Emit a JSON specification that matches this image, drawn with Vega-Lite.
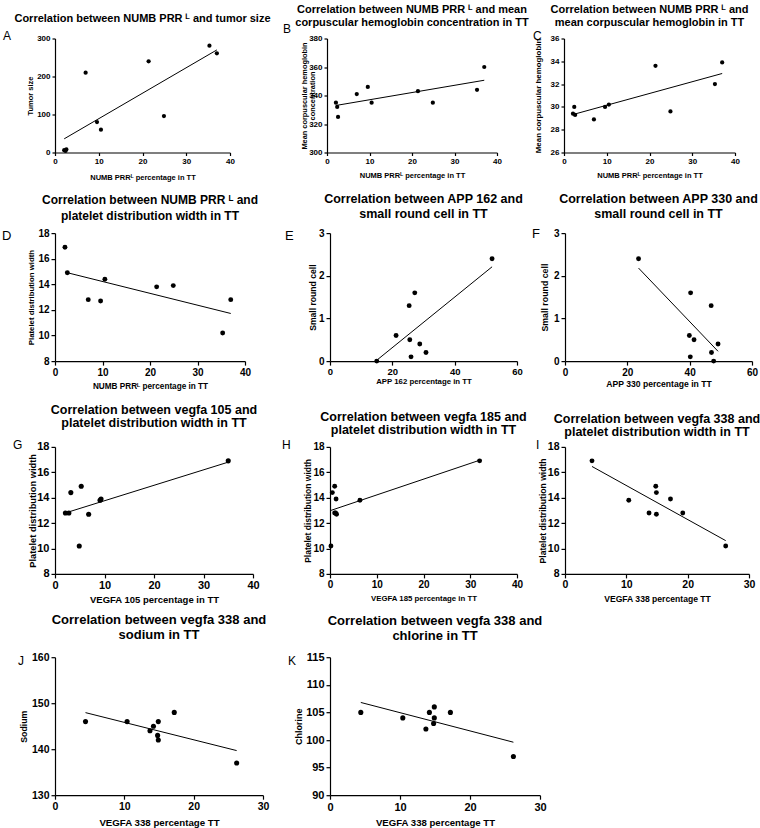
{
  "$schema": "https://vega.github.io/schema/vega-lite/v6.json",
  "autosize": {"type": "pad"},
  "padding": {"left": 2, "top": 3.5, "right": 4, "bottom": 2},
  "background": "white",
  "config": {
    "view": {"stroke": null},
    "font": "Liberation Sans",
    "title": {"font": "Liberation Sans", "fontWeight": "bold", "color": "black", "anchor": "middle", "frame": "group"},
    "axis": {"domainColor": "black", "domainWidth": 1.2, "tickColor": "black", "tickWidth": 1.2, "tickSize": 3, "labelColor": "black", "labelFontWeight": "bold", "labelFont": "Liberation Sans", "titleFont": "Liberation Sans", "titleColor": "black", "titleFontWeight": "bold", "grid": false, "labelPadding": 2, "labelFlush": false, "labelOverlap": false, "labelBound": false},
    "text": {"font": "Liberation Sans", "color": "black"}
  },
  "vconcat": [
    {
      "vconcat": [
        {
          "hconcat": [
            {
              "width": 175, "height": 114,
              "title": {"text": "Correlation between NUMB PRR ᴸ and tumor size", "fontSize": 11, "lineHeight": 13, "offset": 6},
              "layer": [
                {"data": {"values": [{"x": 2.1, "y": 6}, {"x": 2.4, "y": 4}, {"x": 2.6, "y": 8}, {"x": 7.0, "y": 210}, {"x": 9.6, "y": 80}, {"x": 10.5, "y": 60}, {"x": 21.4, "y": 240}, {"x": 24.9, "y": 96}, {"x": 35.3, "y": 281}, {"x": 37.0, "y": 261}]},
                 "mark": {"type": "point", "filled": true, "color": "black", "opacity": 1, "size": 18},
                 "encoding": {
                   "x": {"field": "x", "type": "quantitative", "scale": {"domain": [0, 40], "nice": false, "zero": false}, "axis": {"title": "NUMB PRRᴸ percentage in TT", "values": [0, 10, 20, 30, 40], "format": "d", "tickCount": 20, "labelOverlap": false, "labelFontSize": 8, "titleFontSize": 7.5, "titleY": 27, "titleBaseline": "alphabetic"}},
                   "y": {"field": "y", "type": "quantitative", "scale": {"domain": [0, 300], "nice": false, "zero": false}, "axis": {"title": "Tumor size", "values": [0, 100, 200, 300], "format": "d", "tickCount": 20, "labelOverlap": false, "labelFontSize": 8, "titleFontSize": 7.5, "titleX": -25, "titleY": 57, "titleAngle": -90, "titleBaseline": "middle", "titleAlign": "center"}}
                 }},
                {"data": {"values": [{"x": 2.1, "y": 36}, {"x": 37.0, "y": 270}]},
                 "mark": {"type": "line", "color": "black", "strokeWidth": 1},
                 "encoding": {"x": {"field": "x", "type": "quantitative"}, "y": {"field": "y", "type": "quantitative"}}},
                {"data": {"values": [{"panel": "A"}]},
                 "mark": {"type": "text", "align": "left", "baseline": "alphabetic", "fontSize": 12, "dx": -52, "dy": 1},
                 "encoding": {"x": {"datum": 0}, "y": {"datum": 300}, "text": {"field": "panel"}}}
              ]
            },
            {
              "hconcat": [
                {
                  "width": 170, "height": 114,
                  "title": {"text": ["Correlation between NUMB PRR ᴸ and mean", "corpuscular hemoglobin concentration  in TT"], "fontSize": 11, "lineHeight": 13, "offset": -5.3},
                  "layer": [
                    {"data": {"values": [{"x": 2.1, "y": 335}, {"x": 2.4, "y": 332}, {"x": 2.6, "y": 325}, {"x": 7.0, "y": 341}, {"x": 9.6, "y": 346}, {"x": 10.5, "y": 335}, {"x": 21.4, "y": 343}, {"x": 24.9, "y": 335}, {"x": 35.3, "y": 344}, {"x": 37.0, "y": 360}]},
                     "mark": {"type": "point", "filled": true, "color": "black", "opacity": 1, "size": 18},
                     "encoding": {
                       "x": {"field": "x", "type": "quantitative", "scale": {"domain": [0, 40], "nice": false, "zero": false}, "axis": {"title": "NUMB PRRᴸ percentage in TT", "values": [0, 10, 20, 30, 40], "format": "d", "tickCount": 20, "labelOverlap": false, "labelFontSize": 8, "titleFontSize": 7.5, "titleY": 25, "titleBaseline": "alphabetic"}},
                       "y": {"field": "y", "type": "quantitative", "scale": {"domain": [300, 380], "nice": false, "zero": false}, "axis": {"title": ["Mean corpuscular hemoglobin", "concentration"], "values": [300, 320, 340, 360, 380], "format": "d", "tickCount": 20, "labelOverlap": false, "labelFontSize": 8, "titleFontSize": 7.4, "titleLineHeight": 8, "titleX": -23, "titleY": 57, "titleAngle": -90, "titleBaseline": "middle", "titleAlign": "center"}}
                     }},
                    {"data": {"values": [{"x": 2.1, "y": 333}, {"x": 37.0, "y": 350.7}]},
                     "mark": {"type": "line", "color": "black", "strokeWidth": 1},
                     "encoding": {"x": {"field": "x", "type": "quantitative"}, "y": {"field": "y", "type": "quantitative"}}},
                    {"data": {"values": [{"panel": "B"}]},
                     "mark": {"type": "text", "align": "left", "baseline": "alphabetic", "fontSize": 12, "dx": -44, "dy": -6},
                     "encoding": {"x": {"datum": 0}, "y": {"datum": 380}, "text": {"field": "panel"}}}
                  ]
                },
                {
                  "width": 171, "height": 114,
                  "title": {"text": ["Correlation between NUMB PRR ᴸ and", "mean corpuscular hemoglobin in TT"], "fontSize": 11, "lineHeight": 13, "offset": 1.7},
                  "layer": [
                    {"data": {"values": [{"x": 2.1, "y": 29.4}, {"x": 2.4, "y": 30.0}, {"x": 2.6, "y": 29.3}, {"x": 7.0, "y": 28.9}, {"x": 9.6, "y": 30.0}, {"x": 10.5, "y": 30.2}, {"x": 21.4, "y": 33.6}, {"x": 24.9, "y": 29.6}, {"x": 35.3, "y": 32.0}, {"x": 37.0, "y": 33.9}]},
                     "mark": {"type": "point", "filled": true, "color": "black", "opacity": 1, "size": 18},
                     "encoding": {
                       "x": {"field": "x", "type": "quantitative", "scale": {"domain": [0, 40], "nice": false, "zero": false}, "axis": {"title": "NUMB PRRᴸ percentage in TT", "values": [0, 10, 20, 30, 40], "format": "d", "tickCount": 20, "labelOverlap": false, "labelFontSize": 8, "titleFontSize": 7.5, "titleY": 25, "titleBaseline": "alphabetic"}},
                       "y": {"field": "y", "type": "quantitative", "scale": {"domain": [26, 36], "nice": false, "zero": false}, "axis": {"title": "Mean corpuscular hemoglobin", "values": [26, 28, 30, 32, 34, 36], "format": "d", "tickCount": 20, "labelOverlap": false, "labelFontSize": 8, "titleFontSize": 7.9, "titleX": -26, "titleY": 57, "titleAngle": -90, "titleBaseline": "middle", "titleAlign": "center"}}
                     }},
                    {"data": {"values": [{"x": 2.1, "y": 29.33}, {"x": 37.0, "y": 32.93}]},
                     "mark": {"type": "line", "color": "black", "strokeWidth": 1},
                     "encoding": {"x": {"field": "x", "type": "quantitative"}, "y": {"field": "y", "type": "quantitative"}}},
                    {"data": {"values": [{"panel": "C"}]},
                     "mark": {"type": "text", "align": "left", "baseline": "alphabetic", "fontSize": 12, "dx": -31, "dy": 1},
                     "encoding": {"x": {"datum": 0}, "y": {"datum": 36}, "text": {"field": "panel"}}}
                  ]
                }
              ],
              "spacing": 67, "bounds": "flush"
            }
          ],
          "spacing": 97, "bounds": "flush"
        },
        {
          "hconcat": [
            {
              "width": 190, "height": 128,
              "title": {"text": ["Correlation between NUMB PRR ᴸ and", "platelet distribution width  in TT"], "fontSize": 12, "lineHeight": 15.5, "offset": 5.4},
              "layer": [
                {"data": {"values": [{"x": 2.1, "y": 16.9}, {"x": 2.6, "y": 14.9}, {"x": 7.0, "y": 12.8}, {"x": 9.6, "y": 12.7}, {"x": 10.5, "y": 14.4}, {"x": 21.4, "y": 13.8}, {"x": 24.9, "y": 13.9}, {"x": 35.3, "y": 10.2}, {"x": 37.0, "y": 12.8}]},
                 "mark": {"type": "point", "filled": true, "color": "black", "opacity": 1, "size": 24},
                 "encoding": {
                   "x": {"field": "x", "type": "quantitative", "scale": {"domain": [0, 40], "nice": false, "zero": false}, "axis": {"title": "NUMB PRRᴸ percentage in TT", "values": [0, 10, 20, 30, 40], "format": "d", "tickCount": 20, "labelOverlap": false, "labelFontSize": 10, "titleFontSize": 8.2, "tickSize": 4, "titleY": 27, "titleBaseline": "alphabetic"}},
                   "y": {"field": "y", "type": "quantitative", "scale": {"domain": [8, 18], "nice": false, "zero": false}, "axis": {"title": "Platelet distribution width", "values": [8, 10, 12, 14, 16, 18], "format": "d", "tickCount": 20, "labelOverlap": false, "labelFontSize": 10, "titleFontSize": 7.8, "tickSize": 4, "titleX": -24, "titleY": 64, "titleAngle": -90, "titleBaseline": "middle", "titleAlign": "center"}}
                 }},
                {"data": {"values": [{"x": 2.1, "y": 14.95}, {"x": 37.0, "y": 11.72}]},
                 "mark": {"type": "line", "color": "black", "strokeWidth": 1},
                 "encoding": {"x": {"field": "x", "type": "quantitative"}, "y": {"field": "y", "type": "quantitative"}}},
                {"data": {"values": [{"panel": "D"}]},
                 "mark": {"type": "text", "align": "left", "baseline": "alphabetic", "fontSize": 13, "dx": -53, "dy": 7},
                 "encoding": {"x": {"datum": 0}, "y": {"datum": 18}, "text": {"field": "panel"}}}
              ]
            },
            {
              "hconcat": [
                {
                  "width": 187, "height": 128,
                  "title": {"text": ["Correlation between APP 162 and", "small round cell in TT"], "fontSize": 12.5, "lineHeight": 15, "offset": 7.4},
                  "layer": [
                    {"data": {"values": [{"x": 15.0, "y": 0}, {"x": 21.2, "y": 0.6}, {"x": 25.4, "y": 1.3}, {"x": 25.6, "y": 0.5}, {"x": 26.0, "y": 0.1}, {"x": 27.2, "y": 1.6}, {"x": 28.8, "y": 0.4}, {"x": 30.8, "y": 0.2}, {"x": 52.0, "y": 2.4}]},
                     "mark": {"type": "point", "filled": true, "color": "black", "opacity": 1, "size": 24},
                     "encoding": {
                       "x": {"field": "x", "type": "quantitative", "scale": {"domain": [0, 60], "nice": false, "zero": false}, "axis": {"title": "APP 162 percentage  in TT", "values": [0, 20, 40, 60], "format": "d", "tickCount": 20, "labelOverlap": false, "labelFontSize": 9.5, "labelPadding": 1, "titleFontSize": 7.8, "tickSize": 4, "titleY": 22, "titleBaseline": "alphabetic"}},
                       "y": {"field": "y", "type": "quantitative", "scale": {"domain": [0, 3], "nice": false, "zero": false}, "axis": {"title": "Small round cell", "values": [0, 1, 2, 3], "format": "d", "tickCount": 20, "labelOverlap": false, "labelFontSize": 10, "titleFontSize": 8.6, "tickSize": 4, "titleX": -18, "titleY": 64, "titleAngle": -90, "titleBaseline": "middle", "titleAlign": "center"}}
                     }},
                    {"data": {"values": [{"x": 15.0, "y": 0.02}, {"x": 52.0, "y": 2.21}]},
                     "mark": {"type": "line", "color": "black", "strokeWidth": 1},
                     "encoding": {"x": {"field": "x", "type": "quantitative"}, "y": {"field": "y", "type": "quantitative"}}},
                    {"data": {"values": [{"panel": "E"}]},
                     "mark": {"type": "text", "align": "left", "baseline": "alphabetic", "fontSize": 13, "dx": -45, "dy": 7},
                     "encoding": {"x": {"datum": 0}, "y": {"datum": 3}, "text": {"field": "panel"}}}
                  ]
                },
                {
                  "width": 187, "height": 128,
                  "title": {"text": ["Correlation between APP 330 and", "small round cell  in TT"], "fontSize": 12.5, "lineHeight": 15, "offset": 7.4},
                  "layer": [
                    {"data": {"values": [{"x": 23.6, "y": 2.4}, {"x": 40.3, "y": 1.6}, {"x": 39.9, "y": 0.6}, {"x": 41.4, "y": 0.5}, {"x": 40.2, "y": 0.1}, {"x": 46.9, "y": 1.3}, {"x": 47.0, "y": 0.2}, {"x": 47.7, "y": 0}, {"x": 49.1, "y": 0.4}]},
                     "mark": {"type": "point", "filled": true, "color": "black", "opacity": 1, "size": 24},
                     "encoding": {
                       "x": {"field": "x", "type": "quantitative", "scale": {"domain": [0, 60], "nice": false, "zero": false}, "axis": {"title": "APP 330 percentage  in TT", "values": [0, 20, 40, 60], "format": "d", "tickCount": 20, "labelOverlap": false, "labelFontSize": 10, "titleFontSize": 8.6, "tickSize": 4, "titleY": 25, "titleBaseline": "alphabetic"}},
                       "y": {"field": "y", "type": "quantitative", "scale": {"domain": [0, 3], "nice": false, "zero": false}, "axis": {"title": "Small round cell", "values": [0, 1, 2, 3], "format": "d", "tickCount": 20, "labelOverlap": false, "labelFontSize": 10, "titleFontSize": 8.8, "tickSize": 4, "titleX": -21, "titleY": 64, "titleAngle": -90, "titleBaseline": "middle", "titleAlign": "center"}}
                     }},
                    {"data": {"values": [{"x": 23.6, "y": 2.18}, {"x": 49.1, "y": 0.23}]},
                     "mark": {"type": "line", "color": "black", "strokeWidth": 1},
                     "encoding": {"x": {"field": "x", "type": "quantitative"}, "y": {"field": "y", "type": "quantitative"}}},
                    {"data": {"values": [{"panel": "F"}]},
                     "mark": {"type": "text", "align": "left", "baseline": "alphabetic", "fontSize": 13, "dx": -33, "dy": 5},
                     "encoding": {"x": {"datum": 0}, "y": {"datum": 3}, "text": {"field": "panel"}}}
                  ]
                }
              ],
              "spacing": 48, "bounds": "flush"
            }
          ],
          "spacing": 85, "bounds": "flush"
        }
      ],
      "spacing": 11.6
    },
    {
      "vconcat": [
        {
          "hconcat": [
            {
              "width": 198, "height": 127,
              "title": {"text": ["Correlation between vegfa 105 and", "platelet distribution width in TT"], "fontSize": 12.5, "lineHeight": 13.5, "offset": 9.4},
              "layer": [
                {"data": {"values": [{"x": 2.1, "y": 12.8}, {"x": 2.8, "y": 12.8}, {"x": 3.2, "y": 14.4}, {"x": 4.9, "y": 10.2}, {"x": 5.3, "y": 14.9}, {"x": 6.8, "y": 12.7}, {"x": 9.1, "y": 13.8}, {"x": 9.3, "y": 13.9}, {"x": 35.0, "y": 16.9}]},
                 "mark": {"type": "point", "filled": true, "color": "black", "opacity": 1, "size": 26},
                 "encoding": {
                   "x": {"field": "x", "type": "quantitative", "scale": {"domain": [0, 40], "nice": false, "zero": false}, "axis": {"title": "VEGFA 105 percentage in TT", "values": [0, 10, 20, 30, 40], "format": "d", "tickCount": 20, "labelOverlap": false, "labelFontSize": 11, "titleFontSize": 9.5, "tickSize": 4, "titleY": 29, "titleBaseline": "alphabetic"}},
                   "y": {"field": "y", "type": "quantitative", "scale": {"domain": [8, 18], "nice": false, "zero": false}, "axis": {"title": "Platelet distribution width", "values": [8, 10, 12, 14, 16, 18], "format": "d", "tickCount": 20, "labelOverlap": false, "labelFontSize": 11, "titleFontSize": 9.3, "tickSize": 4, "titleX": -23, "titleY": 63.5, "titleAngle": -90, "titleBaseline": "middle", "titleAlign": "center"}}
                 }},
                {"data": {"values": [{"x": 2.1, "y": 12.8}, {"x": 35.0, "y": 16.8}]},
                 "mark": {"type": "line", "color": "black", "strokeWidth": 1},
                 "encoding": {"x": {"field": "x", "type": "quantitative"}, "y": {"field": "y", "type": "quantitative"}}},
                {"data": {"values": [{"panel": "G"}]},
                 "mark": {"type": "text", "align": "left", "baseline": "alphabetic", "fontSize": 12, "dx": -42, "dy": 2},
                 "encoding": {"x": {"datum": 0}, "y": {"datum": 18}, "text": {"field": "panel"}}}
              ]
            },
            {
              "hconcat": [
                {
                  "width": 187, "height": 127,
                  "title": {"text": ["Correlation between vegfa 185 and", "platelet distribution width in TT"], "fontSize": 12.5, "lineHeight": 13.5, "offset": 2.4},
                  "layer": [
                    {"data": {"values": [{"x": 0.2, "y": 10.2}, {"x": 0.5, "y": 14.4}, {"x": 1.0, "y": 14.9}, {"x": 1.3, "y": 13.9}, {"x": 1.0, "y": 12.8}, {"x": 1.4, "y": 12.7}, {"x": 1.2, "y": 12.8}, {"x": 6.4, "y": 13.8}, {"x": 32.0, "y": 16.9}]},
                     "mark": {"type": "point", "filled": true, "color": "black", "opacity": 1, "size": 24},
                     "encoding": {
                       "x": {"field": "x", "type": "quantitative", "scale": {"domain": [0, 40], "nice": false, "zero": false}, "axis": {"title": "VEGFA 185 percentage in TT", "values": [0, 10, 20, 30, 40], "format": "d", "tickCount": 20, "labelOverlap": false, "labelFontSize": 10, "titleFontSize": 7.8, "tickSize": 4, "titleY": 27, "titleBaseline": "alphabetic"}},
                       "y": {"field": "y", "type": "quantitative", "scale": {"domain": [8, 18], "nice": false, "zero": false}, "axis": {"title": "Platelet distribution width", "values": [8, 10, 12, 14, 16, 18], "format": "d", "tickCount": 20, "labelOverlap": false, "labelFontSize": 10, "titleFontSize": 8.5, "tickSize": 4, "titleX": -23, "titleY": 63.5, "titleAngle": -90, "titleBaseline": "middle", "titleAlign": "center"}}
                     }},
                    {"data": {"values": [{"x": 0.2, "y": 13.0}, {"x": 32.0, "y": 16.95}]},
                     "mark": {"type": "line", "color": "black", "strokeWidth": 1},
                     "encoding": {"x": {"field": "x", "type": "quantitative"}, "y": {"field": "y", "type": "quantitative"}}},
                    {"data": {"values": [{"panel": "H"}]},
                     "mark": {"type": "text", "align": "left", "baseline": "alphabetic", "fontSize": 12, "dx": -48, "dy": 2},
                     "encoding": {"x": {"datum": 0}, "y": {"datum": 18}, "text": {"field": "panel"}}}
                  ]
                },
                {
                  "width": 184, "height": 127,
                  "title": {"text": ["Correlation between vegfa 338 and", "platelet distribution width  in TT"], "fontSize": 12.5, "lineHeight": 13.5, "offset": 0.4},
                  "layer": [
                    {"data": {"values": [{"x": 4.4, "y": 16.9}, {"x": 10.4, "y": 13.8}, {"x": 13.7, "y": 12.8}, {"x": 14.8, "y": 14.9}, {"x": 14.9, "y": 14.4}, {"x": 14.9, "y": 12.7}, {"x": 17.2, "y": 13.9}, {"x": 19.2, "y": 12.8}, {"x": 26.2, "y": 10.2}]},
                     "mark": {"type": "point", "filled": true, "color": "black", "opacity": 1, "size": 24},
                     "encoding": {
                       "x": {"field": "x", "type": "quantitative", "scale": {"domain": [0, 30], "nice": false, "zero": false}, "axis": {"title": "VEGFA 338 percentage TT", "values": [0, 10, 20, 30], "format": "d", "tickCount": 20, "labelOverlap": false, "labelFontSize": 10.5, "titleFontSize": 8.6, "tickSize": 4, "titleY": 28, "titleBaseline": "alphabetic"}},
                       "y": {"field": "y", "type": "quantitative", "scale": {"domain": [8, 18], "nice": false, "zero": false}, "axis": {"title": "Platelet distribution width", "values": [8, 10, 12, 14, 16, 18], "format": "d", "tickCount": 20, "labelOverlap": false, "labelFontSize": 10.5, "titleFontSize": 8.6, "tickSize": 4, "titleX": -23, "titleY": 63.5, "titleAngle": -90, "titleBaseline": "middle", "titleAlign": "center"}}
                     }},
                    {"data": {"values": [{"x": 4.4, "y": 16.46}, {"x": 26.2, "y": 10.62}]},
                     "mark": {"type": "line", "color": "black", "strokeWidth": 1},
                     "encoding": {"x": {"field": "x", "type": "quantitative"}, "y": {"field": "y", "type": "quantitative"}}},
                    {"data": {"values": [{"panel": "I"}]},
                     "mark": {"type": "text", "align": "left", "baseline": "alphabetic", "fontSize": 12, "dx": -29, "dy": 2},
                     "encoding": {"x": {"datum": 0}, "y": {"datum": 18}, "text": {"field": "panel"}}}
                  ]
                }
              ],
              "spacing": 48, "bounds": "flush"
            }
          ],
          "spacing": 77, "bounds": "flush"
        },
        {
          "hconcat": [
            {
              "width": 208, "height": 138,
              "title": {"text": ["Correlation between vegfa 338 and", "sodium  in TT"], "fontSize": 13, "lineHeight": 15, "offset": 10.5},
              "layer": [
                {"data": {"values": [{"x": 4.4, "y": 146}, {"x": 10.4, "y": 146}, {"x": 13.7, "y": 144}, {"x": 14.2, "y": 145}, {"x": 14.9, "y": 146}, {"x": 14.8, "y": 143}, {"x": 14.9, "y": 142}, {"x": 17.2, "y": 148}, {"x": 26.2, "y": 137}]},
                 "mark": {"type": "point", "filled": true, "color": "black", "opacity": 1, "size": 26},
                 "encoding": {
                   "x": {"field": "x", "type": "quantitative", "scale": {"domain": [0, 30], "nice": false, "zero": false}, "axis": {"title": "VEGFA 338 percentage TT", "values": [0, 10, 20, 30], "format": "d", "tickCount": 20, "labelOverlap": false, "labelFontSize": 10.5, "titleFontSize": 9.7, "tickSize": 4, "titleY": 30, "titleBaseline": "alphabetic"}},
                   "y": {"field": "y", "type": "quantitative", "scale": {"domain": [130, 160], "nice": false, "zero": false}, "axis": {"title": "Sodium", "values": [130, 140, 150, 160], "format": "d", "tickCount": 20, "labelOverlap": false, "labelFontSize": 10.5, "titleFontSize": 8.8, "tickSize": 4, "titleX": -32, "titleY": 69, "titleAngle": -90, "titleBaseline": "middle", "titleAlign": "center"}}
                 }},
                {"data": {"values": [{"x": 4.4, "y": 147.95}, {"x": 26.2, "y": 139.7}]},
                 "mark": {"type": "line", "color": "black", "strokeWidth": 1},
                 "encoding": {"x": {"field": "x", "type": "quantitative"}, "y": {"field": "y", "type": "quantitative"}}},
                {"data": {"values": [{"panel": "J"}]},
                 "mark": {"type": "text", "align": "left", "baseline": "alphabetic", "fontSize": 12, "dx": -37, "dy": 8},
                 "encoding": {"x": {"datum": 0}, "y": {"datum": 160}, "text": {"field": "panel"}}}
              ]
            },
            {
              "width": 210, "height": 138,
              "title": {"text": ["Correlation between vegfa 338 and", "chlorine  in TT"], "fontSize": 13, "lineHeight": 15, "offset": 8.2},
              "layer": [
                {"data": {"values": [{"x": 4.4, "y": 105}, {"x": 10.4, "y": 104}, {"x": 13.7, "y": 102}, {"x": 14.2, "y": 105}, {"x": 14.9, "y": 106}, {"x": 14.9, "y": 104}, {"x": 14.8, "y": 103}, {"x": 17.2, "y": 105}, {"x": 26.2, "y": 97}]},
                 "mark": {"type": "point", "filled": true, "color": "black", "opacity": 1, "size": 26},
                 "encoding": {
                   "x": {"field": "x", "type": "quantitative", "scale": {"domain": [0, 30], "nice": false, "zero": false}, "axis": {"title": "VEGFA 338 percentage TT", "values": [0, 10, 20, 30], "format": "d", "tickCount": 20, "labelOverlap": false, "labelFontSize": 11, "titleFontSize": 9.6, "tickSize": 4, "titleY": 30, "titleBaseline": "alphabetic"}},
                   "y": {"field": "y", "type": "quantitative", "scale": {"domain": [90, 115], "nice": false, "zero": false}, "axis": {"title": "Chlorine", "values": [90, 95, 100, 105, 110, 115], "format": "d", "tickCount": 20, "labelOverlap": false, "labelFontSize": 11, "titleFontSize": 9, "tickSize": 4, "titleX": -32, "titleY": 69, "titleAngle": -90, "titleBaseline": "middle", "titleAlign": "center"}}
                 }},
                {"data": {"values": [{"x": 4.4, "y": 106.8}, {"x": 26.2, "y": 99.6}]},
                 "mark": {"type": "line", "color": "black", "strokeWidth": 1},
                 "encoding": {"x": {"field": "x", "type": "quantitative"}, "y": {"field": "y", "type": "quantitative"}}},
                {"data": {"values": [{"panel": "K"}]},
                 "mark": {"type": "text", "align": "left", "baseline": "alphabetic", "fontSize": 12, "dx": -42, "dy": 8},
                 "encoding": {"x": {"datum": 0}, "y": {"datum": 115}, "text": {"field": "panel"}}}
              ]
            }
          ],
          "spacing": 67, "bounds": "flush"
        }
      ],
      "spacing": 8.3
    }
  ],
  "spacing": 13.4
}
